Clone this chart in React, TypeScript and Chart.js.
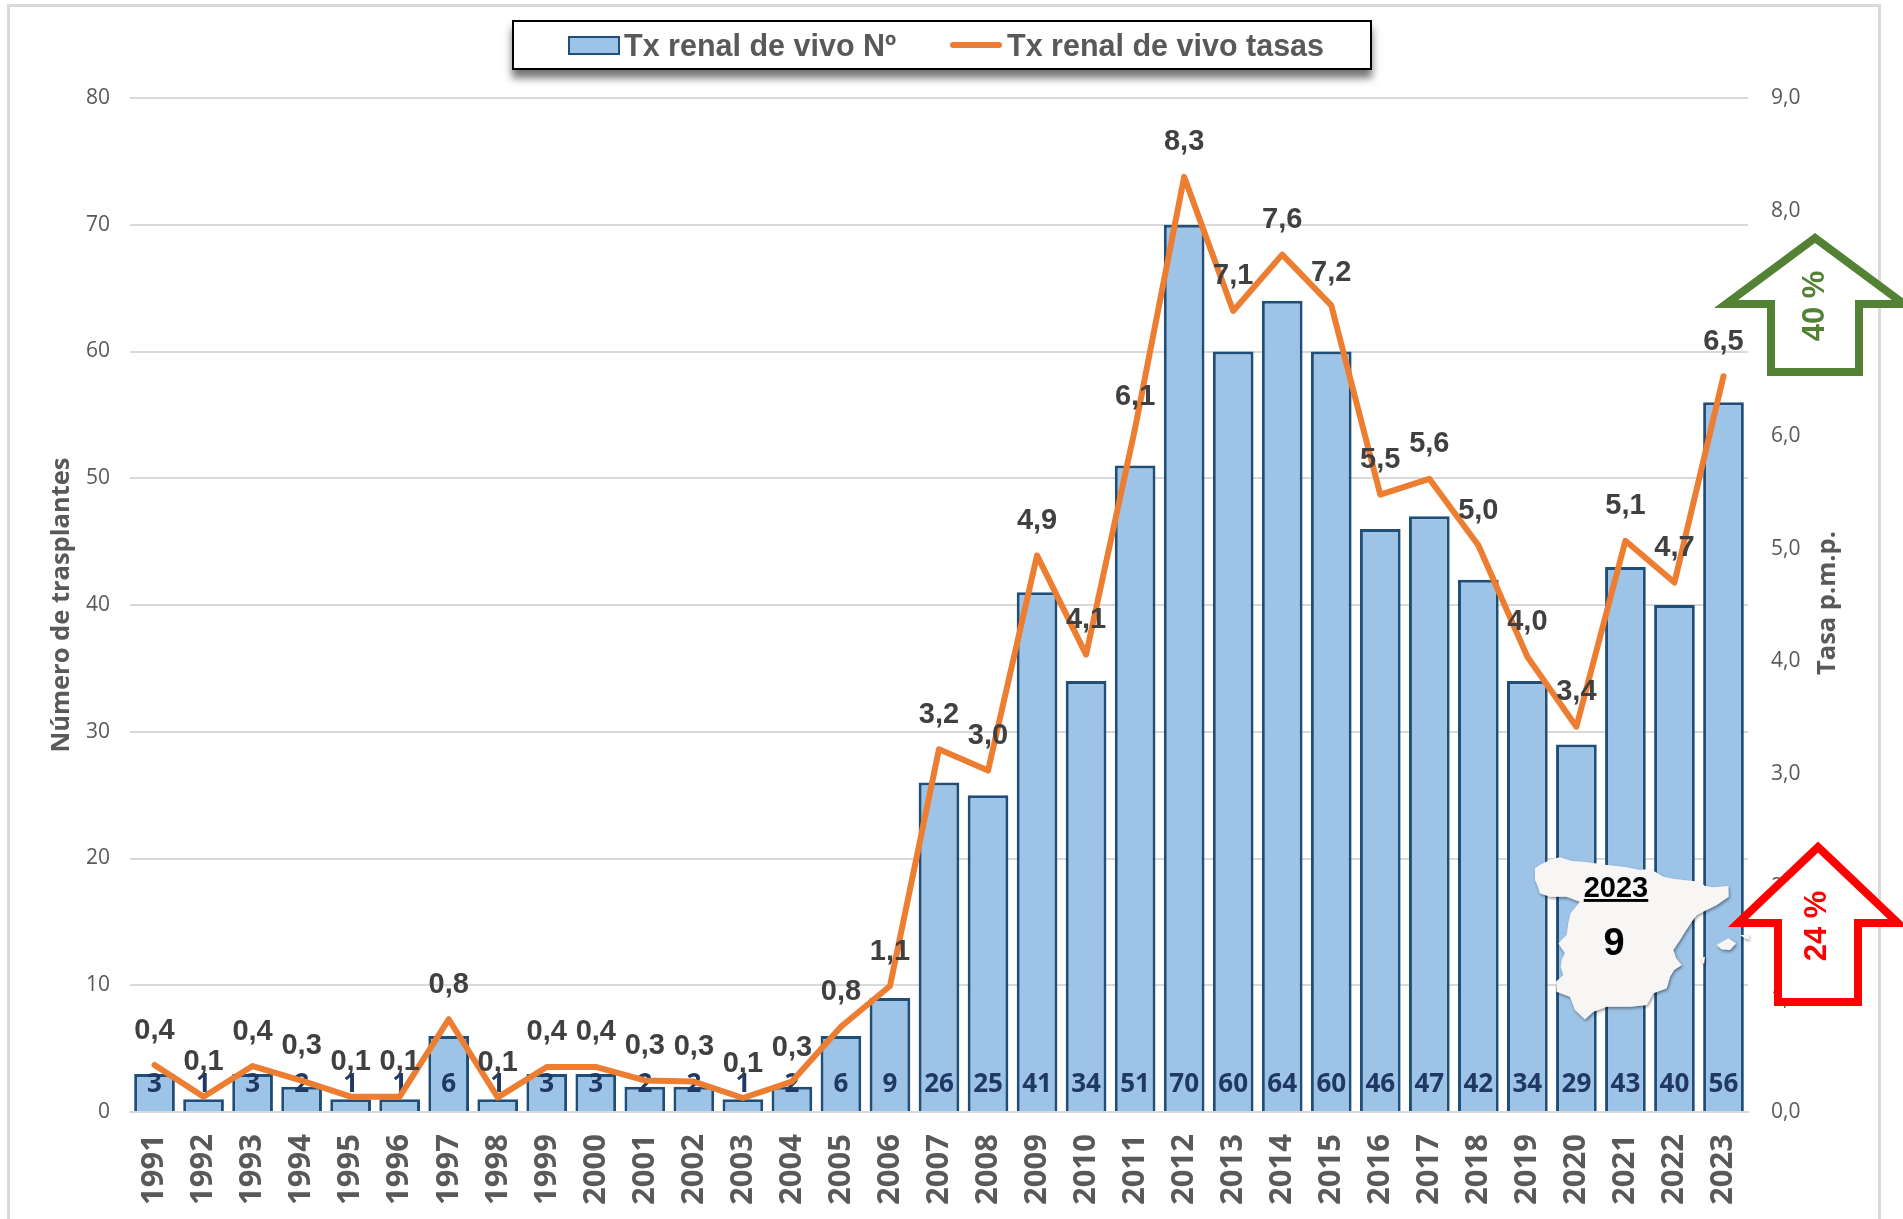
import React, { useEffect, useRef } from "react";
import { Chart, registerables } from "chart.js";

Chart.register(...registerables);

const years = ["1991","1992","1993","1994","1995","1996","1997","1998","1999","2000","2001","2002","2003","2004","2005","2006","2007","2008","2009","2010","2011","2012","2013","2014","2015","2016","2017","2018","2019","2020","2021","2022","2023"];
const transplantes = [3,1,3,2,1,1,6,1,3,3,2,2,1,2,6,9,26,25,41,34,51,70,60,64,60,46,47,42,34,29,43,40,56];
const tasas = [0.417,0.136,0.408,0.278,0.136,0.136,0.823,0.13,0.4,0.4,0.28,0.27,0.124,0.27,0.757,1.118,3.22,3.03,4.94,4.06,6.07,8.3,7.11,7.61,7.16,5.48,5.62,5.03,4.04,3.42,5.07,4.7,6.53];
const barLabel = "Tx renal de vivo Nº";
const lineLabel = "Tx renal de vivo tasas";
const leftTitle = "Número de trasplantes";
const rightTitle = "Tasa p.m.p.";

const FONT = '"Liberation Sans", Arial, sans-serif';
const OPEN = '"Open Sans", sans-serif';
const comma = (v: number) => v.toFixed(1).replace(".", ",");
const labelNudge: Record<string, number> = { "2011": 3, "2004": 1, "2015": 2 };

const labelPlugin = {
  id: "labels",
  afterDatasetDraw(chart: any, args: any) {
    if (args.index !== 0) return;
    const ctx = chart.ctx;
    const base = chart.scales.y.getPixelForValue(0);
    ctx.save();
    ctx.font = `bold 26px ${OPEN}`;
    ctx.fillStyle = "#1f3864";
    ctx.textAlign = "center";
    ctx.textBaseline = "middle";
    chart.getDatasetMeta(0).data.forEach((el: any, i: number) => {
      ctx.fillText(String(transplantes[i]), el.x, base - 27);
    });
    ctx.restore();
  },
  afterDatasetsDraw(chart: any) {
    const ctx = chart.ctx;
    ctx.save();
    ctx.font = `bold 29px ${FONT}`;
    ctx.fillStyle = "#404040";
    ctx.textAlign = "center";
    ctx.textBaseline = "middle";
    chart.getDatasetMeta(1).data.forEach((el: any, i: number) => {
      ctx.fillText(comma(tasas[i]), el.x, el.y - 34.5 + (labelNudge[years[i]] || 0));
    });
    ctx.translate(1828, 603);
    ctx.rotate(-Math.PI / 2);
    ctx.font = `bold 25.5px ${OPEN}`;
    ctx.fillStyle = "#595959";
    ctx.fillText(rightTitle, 0, 0);
    ctx.restore();
  },
};

const mainland = "255,265 275,252 300,240 330,232 365,243 400,245 435,250 470,255 530,262 570,270 600,266 640,290 670,296 700,300 750,305 765,318 790,322 835,318 836,350 800,375 765,392 740,405 725,425 705,455 690,480 670,510 678,535 695,555 672,570 660,590 650,625 610,640 590,675 540,680 470,680 430,695 405,718 375,690 360,650 320,635 318,605 340,585 332,560 335,540 345,520 325,490 350,465 355,430 362,400 390,365 350,350 300,350 270,340 262,315 255,300";
const mallorca = "800,495 835,475 858,490 840,510 815,508";
const menorca = "870,465 895,465 898,478 885,475";
const ibiza = "750,535 765,530 762,552";

export default function App() {
  const ref = useRef<HTMLCanvasElement>(null);
  useEffect(() => {
    const chart = new Chart(ref.current as HTMLCanvasElement, {
      type: "bar",
      plugins: [labelPlugin],
      data: {
        labels: years,
        datasets: [
          {
            type: "bar",
            label: barLabel,
            data: transplantes,
            yAxisID: "y",
            order: 2,
            backgroundColor: "#9dc3e6",
            borderColor: "#1f4e79",
            borderWidth: 3,
            categoryPercentage: 1,
            barPercentage: 0.83,
          },
          {
            type: "line",
            label: lineLabel,
            data: tasas,
            yAxisID: "y1",
            order: 1,
            borderColor: "#ed7d31",
            borderWidth: 6,
            borderCapStyle: "round",
            borderJoinStyle: "round",
            pointRadius: 0,
            tension: 0,
          },
        ],
      } as any,
      options: {
        responsive: false,
        animation: false,
        layout: { padding: { top: 98, left: 0, right: 0, bottom: 0 } },
        plugins: { legend: { display: false }, tooltip: { enabled: false } },
        scales: {
          x: {
            grid: { display: false, drawTicks: false },
            border: { display: true, color: "#d9d9d9", width: 2 },
            ticks: {
              minRotation: 90,
              maxRotation: 90,
              autoSkip: false,
              padding: 22,
              color: "#595959",
              font: { family: OPEN, size: 31, weight: "bold" },
            },
            afterFit: (s: any) => { s.height = 107; },
          },
          y: {
            min: 0,
            max: 80,
            position: "left",
            grid: { color: "#d9d9d9", lineWidth: 2, drawTicks: false },
            border: { display: false },
            ticks: { stepSize: 10, padding: 20, color: "#595959", font: { family: OPEN, size: 21 } },
            title: {
              display: true,
              text: leftTitle,
              color: "#595959",
              font: { family: OPEN, size: 25.5, weight: "bold" },
              padding: { top: 46, bottom: 0 },
            },
            afterFit: (s: any) => { s.width = 130; },
          },
          y1: {
            min: 0,
            max: 9,
            position: "right",
            grid: { display: false, drawTicks: false },
            border: { display: false },
            ticks: { stepSize: 1, padding: 23, color: "#595959", font: { family: OPEN, size: 21 }, callback: (v: any) => comma(Number(v)) },
            afterFit: (s: any) => { s.width = 155; },
          },
        },
      } as any,
    });
    return () => chart.destroy();
  }, []);

  const abs = { position: "absolute" as const };
  const legendText = { ...abs, top: 26, fontFamily: FONT, fontWeight: 700, fontSize: 30.5, lineHeight: "38px", color: "#595959", whiteSpace: "nowrap" as const };

  return (
    <div style={{ ...abs, left: 0, top: 0, width: 1903, height: 1219, overflow: "hidden", background: "#fff" }}>
      <div style={{ ...abs, left: 7, top: 4, width: 1868, height: 1300, border: "3px solid #d9d9d9" }} />
      <canvas ref={ref} width={1903} height={1219} style={{ ...abs, left: 0, top: 0, width: 1903, height: 1219 }} />

      <div style={{ ...abs, left: 512, top: 20, width: 860, height: 50, boxSizing: "border-box", border: "2.5px solid #000", background: "#fff", boxShadow: "0 8px 8px rgba(0,0,0,0.55)" }} />
      <div style={{ ...abs, left: 568, top: 36, width: 52, height: 19, boxSizing: "border-box", background: "#9dc3e6", border: "2px solid #1f4e79" }} />
      <div style={{ ...legendText, left: 624 }}>{barLabel}</div>
      <div style={{ ...abs, left: 950, top: 42, width: 52, height: 6, borderRadius: 3, background: "#ed7d31" }} />
      <div style={{ ...legendText, left: 1007 }}>{lineLabel}</div>

      <svg width={1903} height={1219} style={{ ...abs, left: 0, top: 0 }}>
        <defs>
          <filter id="sh" x="-20%" y="-20%" width="140%" height="140%">
            <feDropShadow dx="3" dy="5" stdDeviation="4" floodColor="#000" floodOpacity="0.45" />
          </filter>
        </defs>
        <g transform="translate(1450 780) scale(0.3333)" filter="url(#sh)" fill="#f8f5f5">
          <polygon points={mainland} />
          <polygon points={mallorca} />
          <polygon points={menorca} />
          <polygon points={ibiza} />
        </g>
        <text x={1616} y={897} textAnchor="middle" fontFamily={FONT} fontWeight="700" fontSize={29} fill="#000" textDecoration="underline">2023</text>
        <text x={1614} y={955} textAnchor="middle" fontFamily={FONT} fontWeight="700" fontSize={38} fill="#000">9</text>

        <path d="M1815 238 L1904 304 L1859 304 L1859 372 L1771 372 L1771 304 L1726 304 Z" fill="#fff" stroke="#548235" strokeWidth={8} strokeLinejoin="miter" />
        <text transform="translate(1824 306) rotate(-90)" textAnchor="middle" fontFamily={FONT} fontWeight="700" fontSize={31} fill="#548235">40 %</text>

        <path d="M1818 847 L1898 923 L1858 923 L1858 1002 L1778 1002 L1778 923 L1738 923 Z" fill="#fff" stroke="#ff0000" strokeWidth={8} strokeLinejoin="miter" />
        <text transform="translate(1826 926) rotate(-90)" textAnchor="middle" fontFamily={FONT} fontWeight="700" fontSize={31} fill="#ff0000">24 %</text>
      </svg>
    </div>
  );
}
